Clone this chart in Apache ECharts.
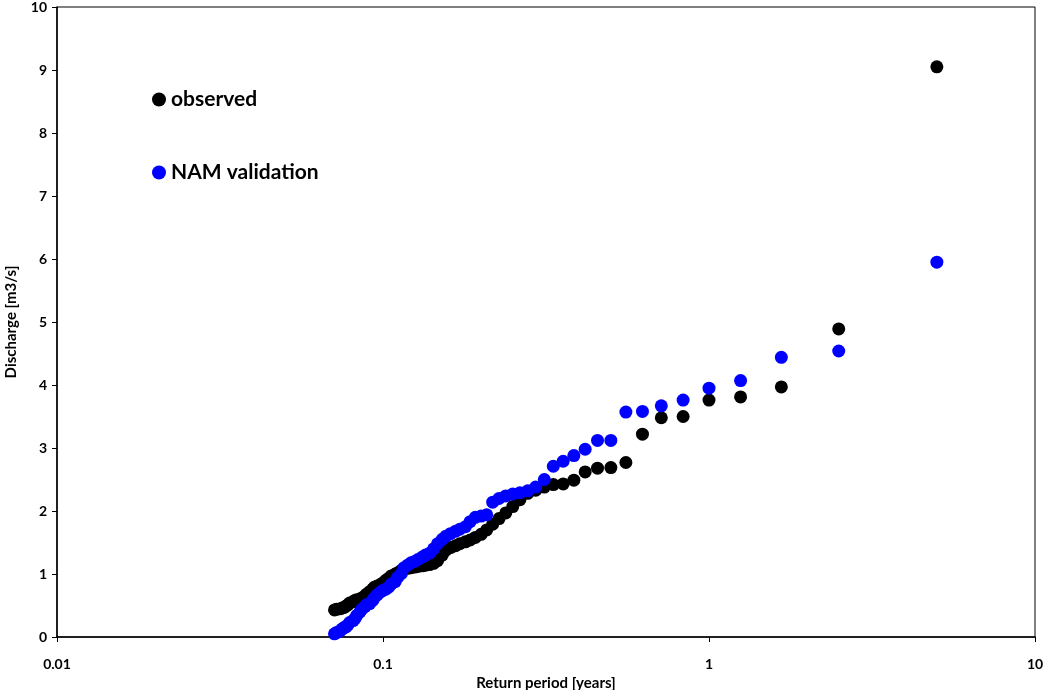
<!DOCTYPE html>
<html>
<head>
<meta charset="utf-8">
<script src="https://cdn.jsdelivr.net/npm/echarts@6/dist/echarts.min.js"></script>
<style>
  html, body { margin: 0; padding: 0; background: #fff; }
  #chart { width: 1043px; height: 690px; }
</style>
</head>
<body>
<div id="chart"></div>
<script>
// Return period [years] of each ranked discharge (rank 1 = largest)
const returnPeriod = [
  5, 2.5, 1.667, 1.25, 1, 0.833, 0.714, 0.625, 0.556, 0.5,
  0.455, 0.417, 0.385, 0.357, 0.333, 0.3125, 0.294, 0.278, 0.263, 0.25,
  0.238, 0.227, 0.217, 0.208, 0.2, 0.192, 0.185, 0.179, 0.172, 0.167,
  0.161, 0.156, 0.152, 0.147, 0.143, 0.139, 0.135, 0.132, 0.128, 0.125,
  0.122, 0.119, 0.116, 0.114, 0.111, 0.109, 0.106, 0.104, 0.102, 0.1,
  0.098, 0.096, 0.094, 0.093, 0.091, 0.089, 0.088, 0.086, 0.085, 0.083,
  0.082, 0.081, 0.079, 0.078, 0.077, 0.076, 0.075, 0.074, 0.072, 0.071
];

// Observed discharge [m3/s], sorted by rank
const observed = [
  9.05, 4.89, 3.97, 3.81, 3.76, 3.50, 3.48, 3.22, 2.77, 2.69,
  2.68, 2.62, 2.49, 2.43, 2.42, 2.38, 2.33, 2.28, 2.18, 2.07,
  1.97, 1.88, 1.79, 1.70, 1.63, 1.58, 1.54, 1.51, 1.48, 1.45,
  1.42, 1.38, 1.30, 1.21, 1.17, 1.15, 1.14, 1.13, 1.12, 1.11,
  1.10, 1.09, 1.08, 1.06, 1.02, 1.00, 0.97, 0.93, 0.90, 0.86,
  0.83, 0.81, 0.79, 0.76, 0.72, 0.68, 0.65, 0.62, 0.60, 0.59,
  0.58, 0.56, 0.54, 0.51, 0.49, 0.47, 0.46, 0.45, 0.44, 0.43
];

// NAM model validation discharge [m3/s], sorted by rank
const namValidation = [
  5.95, 4.54, 4.44, 4.07, 3.95, 3.76, 3.67, 3.58, 3.57, 3.12,
  3.12, 2.98, 2.88, 2.79, 2.71, 2.50, 2.38, 2.32, 2.29, 2.27,
  2.24, 2.20, 2.14, 1.94, 1.92, 1.90, 1.83, 1.75, 1.71, 1.68,
  1.64, 1.60, 1.55, 1.48, 1.40, 1.33, 1.30, 1.27, 1.23, 1.20,
  1.18, 1.14, 1.10, 1.01, 0.95, 0.88, 0.84, 0.79, 0.76, 0.74,
  0.71, 0.67, 0.62, 0.58, 0.53, 0.51, 0.48, 0.44, 0.40, 0.34,
  0.29, 0.26, 0.23, 0.19, 0.16, 0.15, 0.13, 0.10, 0.07, 0.05
];

const seriesNames = ['observed', 'NAM validation'];
const seriesColors = ['#000000', '#0000ff'];

const FONT = 'Lato, "Open Sans", sans-serif';

const pairs = (ys) => returnPeriod.map((t, i) => [t, ys[i]]);

const chart = echarts.init(document.getElementById('chart'), null, { renderer: 'canvas' });

chart.setOption({
  animation: false,
  backgroundColor: '#ffffff',
  grid: {
    left: 57, right: 8, top: 7, bottom: 53,
    containLabel: false,
    outerBoundsMode: 'none',
    show: true, borderColor: '#000', borderWidth: 1
  },
  legend: {
    orient: 'vertical',
    left: 147,
    top: 84,
    itemGap: 52,
    itemWidth: 14,
    itemHeight: 14,
    icon: 'circle',
    textStyle: { fontFamily: FONT, fontWeight: 'bold', fontSize: 21, color: '#000' },
    data: seriesNames
  },
  xAxis: {
    type: 'log',
    logBase: 10,
    min: 0.01,
    max: 10,
    name: 'Return period [years]',
    nameLocation: 'middle',
    nameGap: 37,
    nameTextStyle: { fontFamily: FONT, fontWeight: 'bold', fontSize: 15, color: '#000' },
    axisLine: { lineStyle: { color: '#000', width: 1.5 } },
    axisTick: { show: true, length: 5, lineStyle: { color: '#000' } },
    minorTick: { show: false },
    splitLine: { show: false },
    axisLabel: {
      margin: 20,
      fontFamily: FONT, fontWeight: 'bold', fontSize: 14, color: '#000',
      formatter: (v) => String(+Number(v).toPrecision(2))
    }
  },
  yAxis: {
    type: 'value',
    min: 0,
    max: 10,
    interval: 1,
    name: 'Discharge [m3/s]',
    nameLocation: 'middle',
    nameGap: 38,
    nameRotate: 90,
    nameTextStyle: { fontFamily: FONT, fontWeight: 'bold', fontSize: 15, color: '#000' },
    axisLine: { show: true, lineStyle: { color: '#000', width: 1.5 } },
    axisTick: { show: true, length: 5, lineStyle: { color: '#000' } },
    splitLine: { show: false },
    axisLabel: {
      margin: 10,
      fontFamily: FONT, fontWeight: 'bold', fontSize: 14, color: '#000'
    }
  },
  series: [
    {
      name: seriesNames[0],
      type: 'scatter',
      symbol: 'circle',
      symbolSize: 13,
      itemStyle: { color: seriesColors[0], opacity: 1 },
      data: pairs(observed)
    },
    {
      name: seriesNames[1],
      type: 'scatter',
      symbol: 'circle',
      symbolSize: 13,
      itemStyle: { color: seriesColors[1], opacity: 1 },
      data: pairs(namValidation)
    }
  ]
});
</script>
</body>
</html>
